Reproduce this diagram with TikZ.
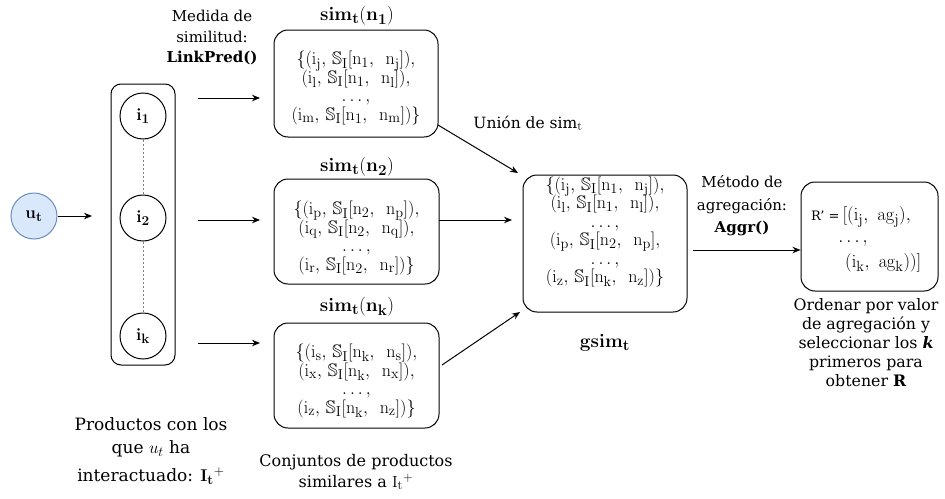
\documentclass[tikz,border=0pt]{standalone}
\usepackage{fix-cm}
\usepackage{amssymb}
\usepackage[no-math]{fontspec}
\setmainfont{DejaVu Serif}
\usetikzlibrary{arrows.meta}

% scalable blackboard-bold letters at any size
\DeclareFontFamily{U}{msb}{}
\DeclareFontShape{U}{msb}{m}{n}{<-> msbm10}{}
% slightly larger subscripts
\renewcommand{\defaultscriptratio}{.8}
\renewcommand{\defaultscriptscriptratio}{.6}

\definecolor{userfill}{HTML}{DAE8FC}
\definecolor{userdraw}{HTML}{6C8EBF}
% similarity operator and pair separator
\newcommand{\SSI}{\,\mathbb{S}_{\mathrm{I}}}
\newcommand{\sep}{,\ \,}

\begin{document}
\begin{tikzpicture}[x=1pt,y=-1pt,
  lbl/.style={font=\fontsize{15.5}{20.5}\selectfont, align=center, inner sep=0pt},
  settext/.style={font={\fontsize{18}{18.5}\selectfont\lineskiplimit=-8pt}, align=center, inner sep=0pt},
  settitle/.style={font=\fontsize{19}{20}\selectfont, inner sep=0pt},
  rbox/.style={draw, rounded corners=14pt, line width=1pt, inner sep=0pt},
  itemnode/.style={draw, circle, minimum size=46pt, inner sep=0pt, line width=1pt,
               font=\fontsize{17}{18}\selectfont},
  arr/.style={-{Stealth[length=8pt,width=6.5pt]}, line width=1pt},
  dotline/.style={draw=gray, line width=1pt, dash pattern=on 2pt off 2pt}]

\useasboundingbox (0,0) rectangle (945,498);

% user node
\node[itemnode, draw=userdraw, fill=userfill] (u) at (34,216) {$\mathbf{u_t}$};
\coordinate (uend) at (92,216);
\draw[arr] (u) -- (uend);

% items the user interacted with
\node[rbox, rounded corners=10pt, minimum width=64pt, minimum height=281pt] (items) at (143,224.5) {};
\node[itemnode] (i1) at (143,116) {$\mathbf{i_1}$};
\node[itemnode] (i2) at (143,218) {$\mathbf{i_2}$};
\node[itemnode] (ik) at (143,336) {$\mathbf{i_k}$};
\draw[dotline] (i1) -- (i2);
\draw[dotline] (i2) -- (ik);

\node[lbl, font={\fontsize{17}{23}\selectfont\lineskiplimit=-8pt}] (itemslbl) at (151,451) {Productos con los\\ que $u_t$ ha\\[5pt] interactuado: $\mathbf{I_t}^{+}$};

% similarity measure
\node[lbl, font=\fontsize{15}{20.5}\selectfont] (measure) at (212,37.5) {Medida de\\ similitud:\\ \textbf{LinkPred()}};
\coordinate (a1s) at (198,98);  \coordinate (a1e) at (260,98);
\coordinate (a2s) at (198,220); \coordinate (a2e) at (260,220);
\coordinate (a3s) at (198,343); \coordinate (a3e) at (260,343);
\draw[arr] (a1s) -- (a1e);
\draw[arr] (a2s) -- (a2e);
\draw[arr] (a3s) -- (a3e);

% similar item sets
\node[settitle] (t1) at (357,16) {$\mathbf{sim_t(n_1)}$};
\node[rbox, minimum width=164pt, minimum height=107pt] (s1) at (356,83.5) {};
\node[settext] (s1txt) at (356,88) {$\{(\mathrm{i_j},\SSI[\mathrm{n_1}\sep\mathrm{n_j}]),$\\ $(\mathrm{i_l},\SSI[\mathrm{n_1}\sep\mathrm{n_l}]),$\\ $\ldots,$\\ $(\mathrm{i_m},\SSI[\mathrm{n_1}\sep\mathrm{n_m}])\}$};

\node[settitle] (t2) at (357,167) {$\mathbf{sim_t(n_2)}$};
\node[rbox, minimum width=165pt, minimum height=105pt] (s2) at (356.5,231.5) {};
\node[settext] (s2txt) at (356.5,238) {$\{(\mathrm{i_p},\SSI[\mathrm{n_2}\sep\mathrm{n_p}]),$\\ $(\mathrm{i_q},\SSI[\mathrm{n_2}\sep\mathrm{n_q}]),$\\ $\ldots,$\\ $(\mathrm{i_r},\SSI[\mathrm{n_2}\sep\mathrm{n_r}])\}$};

\node[settitle] (t3) at (357,307) {$\mathbf{sim_t(n_k)}$};
\node[rbox, minimum width=165pt, minimum height=105pt] (s3) at (356.5,375.5) {};
\node[settext] (s3txt) at (356.5,381) {$\{(\mathrm{i_s},\SSI[\mathrm{n_k}\sep\mathrm{n_s}]),$\\ $(\mathrm{i_x},\SSI[\mathrm{n_k}\sep\mathrm{n_x}]),$\\ $\ldots,$\\ $(\mathrm{i_z},\SSI[\mathrm{n_k}\sep\mathrm{n_z}])\}$};

\node[lbl, font={\fontsize{16}{21}\selectfont\lineskiplimit=-8pt}] (setslbl) at (356,472) {Conjuntos de productos\\ similares a $\mathrm{I_t}^{+}$};

% global similarity set
\node[lbl] (union) at (528,123) {Unión de sim$_{\mathrm{t}}$};
\node[rbox, minimum width=164pt, minimum height=137pt] (g) at (605,243.5) {};
\node[settext] (gtxt) at (605,232) {$\{(\mathrm{i_j},\SSI[\mathrm{n_1}\sep\mathrm{n_j}]),$\\ $(\mathrm{i_l},\SSI[\mathrm{n_1}\sep\mathrm{n_l}]),$\\ $\ldots,$\\ $(\mathrm{i_p},\SSI[\mathrm{n_2}\sep\mathrm{n_p}],$\\ $\ldots,$\\ $(\mathrm{i_z},\SSI[\mathrm{n_k}\sep\mathrm{n_z}])\}$};
\node[settitle] (glbl) at (605,343) {$\mathbf{gsim_t}$};

\coordinate (b1s) at (438,125); \coordinate (b1e) at (518,173);
\coordinate (b2s) at (439,220); \coordinate (b2e) at (512,220);
\coordinate (b3s) at (442,365); \coordinate (b3e) at (520,312);
\draw[arr] (b1s) -- (b1e);
\draw[arr] (b2s) -- (b2e);
\draw[arr] (b3s) -- (b3e);

% aggregation
\node[lbl, font=\fontsize{15}{22.5}\selectfont] (agg) at (742,206) {Método de\\ agregación:\\ \textbf{Aggr()}};
\node[rbox, minimum width=137pt, minimum height=109pt] (r) at (869.5,236.5) {};
\coordinate (aggs) at (693,250);
\draw[arr] (aggs) -- (aggs -| r.west);

\node[anchor=west, inner sep=0pt] (rt1) at (811,217) {{\fontsize{13}{15}\selectfont R' =} {\fontsize{18.5}{18}\selectfont$[(\mathrm{i_j},\ \mathrm{ag_j}),$}};
\node[inner sep=0pt, font=\fontsize{18.5}{18}\selectfont] (rt2) at (853,243) {$\ldots,$};
\node[anchor=west, inner sep=0pt, font=\fontsize{18.5}{18}\selectfont] (rt3) at (845,263) {$(\mathrm{i_k},\ \mathrm{ag_k}))]$};

\node[lbl, font=\fontsize{15.8}{19}\selectfont] (rlbl) at (866,343) {Ordenar por valor\\ de agregación y\\ seleccionar los \textbf{\textit{k}}\\ primeros para\\ obtener \textbf{R}};

\end{tikzpicture}
\end{document}
